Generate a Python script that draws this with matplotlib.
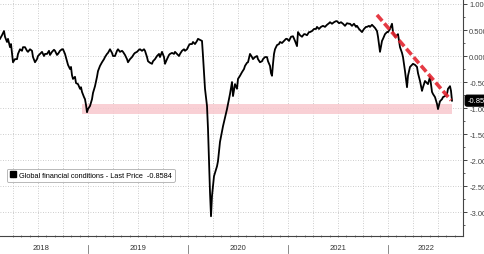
import matplotlib
matplotlib.use("Agg")
import matplotlib.pyplot as plt
from matplotlib.lines import Line2D
import matplotlib.transforms as mtransforms
import numpy as np

plt.rcParams['font.family'] = ['Liberation Sans', 'DejaVu Sans']

# Global financial conditions index, dates as decimal years
t_2018 = [2018.12, 2018.14, 2018.16, 2018.17, 2018.19, 2018.20, 2018.22, 2018.23, 2018.25, 2018.27,
          2018.29, 2018.30, 2018.32, 2018.34, 2018.35, 2018.37, 2018.39, 2018.40, 2018.42, 2018.44,
          2018.45, 2018.47, 2018.49, 2018.50, 2018.52, 2018.54, 2018.56, 2018.57, 2018.59, 2018.61,
          2018.62, 2018.64, 2018.66, 2018.67, 2018.69, 2018.70, 2018.72, 2018.74, 2018.75, 2018.77,
          2018.79, 2018.80, 2018.82, 2018.83, 2018.84, 2018.85, 2018.87, 2018.88, 2018.90, 2018.92,
          2018.93, 2018.94, 2018.96, 2018.97, 2018.98, 2018.99]
v_2018 = [0.33, 0.40, 0.48, 0.37, 0.27, 0.33, 0.17, 0.23, -0.12, -0.06,
          -0.06, 0.04, 0.13, 0.10, 0.17, 0.17, 0.10, 0.08, 0.13, 0.10,
          -0.02, -0.12, -0.06, 0.00, 0.04, 0.08, 0.00, 0.04, 0.04, 0.10,
          0.02, 0.08, 0.12, 0.10, 0.02, 0.04, 0.10, 0.13, 0.13, 0.04,
          -0.10, -0.17, -0.25, -0.21, -0.37, -0.44, -0.40, -0.52, -0.54, -0.63,
          -0.60, -0.69, -0.79, -0.83, -0.94, -1.08]

t_2019 = [2019.00, 2019.02, 2019.04, 2019.05, 2019.07, 2019.09, 2019.10, 2019.12, 2019.14, 2019.16,
          2019.17, 2019.19, 2019.20, 2019.22, 2019.24, 2019.25, 2019.27, 2019.29, 2019.30, 2019.32,
          2019.34, 2019.35, 2019.37, 2019.39, 2019.40, 2019.42, 2019.44, 2019.46, 2019.47, 2019.49,
          2019.51, 2019.52, 2019.54, 2019.56, 2019.57, 2019.59, 2019.60, 2019.62, 2019.64, 2019.65,
          2019.67, 2019.69, 2019.71, 2019.72, 2019.74, 2019.76, 2019.77, 2019.79, 2019.81, 2019.82,
          2019.84, 2019.86, 2019.87, 2019.89, 2019.91, 2019.92, 2019.94, 2019.96, 2019.97, 2019.99]
v_2019 = [-1.02, -0.96, -0.83, -0.71, -0.58, -0.40, -0.29, -0.19, -0.12, -0.06,
          -0.02, 0.04, 0.06, 0.13, 0.06, 0.00, 0.00, 0.10, 0.13, 0.08,
          0.10, 0.08, 0.02, -0.06, -0.12, -0.06, -0.02, 0.04, 0.06, 0.08,
          0.12, 0.13, 0.10, 0.13, 0.10, -0.02, -0.10, -0.13, -0.15, -0.10,
          -0.06, 0.00, 0.04, -0.02, 0.08, -0.02, -0.15, -0.06, 0.02, 0.04,
          0.06, 0.04, 0.08, 0.04, 0.00, 0.04, 0.10, 0.13, 0.10, 0.13]

t_2020 = [2020.01, 2020.02, 2020.04, 2020.05, 2020.07, 2020.09, 2020.10, 2020.12, 2020.14, 2020.15,
          2020.17, 2020.19, 2020.20, 2020.21, 2020.22, 2020.23, 2020.24, 2020.26, 2020.29, 2020.30,
          2020.32, 2020.35, 2020.39, 2020.42, 2020.44, 2020.45, 2020.47, 2020.49, 2020.50, 2020.52,
          2020.54, 2020.56, 2020.57, 2020.59, 2020.60, 2020.62, 2020.64, 2020.65, 2020.67, 2020.69,
          2020.70, 2020.72, 2020.74, 2020.75, 2020.77, 2020.79, 2020.80, 2020.82, 2020.83, 2020.84,
          2020.85, 2020.86, 2020.87, 2020.89, 2020.91, 2020.92, 2020.94, 2020.96, 2020.98, 2020.99]
v_2020 = [0.21, 0.23, 0.23, 0.27, 0.23, 0.29, 0.33, 0.31, 0.29, 0.00,
          -0.63, -0.96, -1.40, -2.04, -2.62, -3.08, -2.69, -2.31, -2.12, -2.02,
          -1.65, -1.35, -1.02, -0.73, -0.50, -0.77, -0.54, -0.63, -0.44, -0.38,
          -0.31, -0.25, -0.19, -0.13, -0.12, 0.04, -0.02, -0.06, -0.02, 0.00,
          -0.06, -0.12, -0.10, -0.06, -0.02, -0.02, -0.10, -0.19, -0.33, -0.38,
          -0.15, 0.04, 0.13, 0.21, 0.23, 0.27, 0.25, 0.29, 0.33, 0.33]

t_2021 = [2021.01, 2021.03, 2021.05, 2021.07, 2021.09, 2021.10, 2021.12, 2021.14, 2021.16, 2021.17,
          2021.19, 2021.21, 2021.22, 2021.24, 2021.26, 2021.28, 2021.29, 2021.31, 2021.33, 2021.35,
          2021.37, 2021.39, 2021.41, 2021.42, 2021.44, 2021.46, 2021.48, 2021.49, 2021.51, 2021.53,
          2021.55, 2021.57, 2021.59, 2021.61, 2021.62, 2021.64, 2021.66, 2021.68, 2021.69, 2021.71,
          2021.73, 2021.74, 2021.76, 2021.78, 2021.79, 2021.81, 2021.82, 2021.84, 2021.85, 2021.87,
          2021.89, 2021.90, 2021.92, 2021.94, 2021.95, 2021.97, 2021.99]
v_2021 = [0.29, 0.37, 0.38, 0.29, 0.19, 0.46, 0.40, 0.37, 0.42, 0.42,
          0.40, 0.46, 0.46, 0.48, 0.52, 0.52, 0.56, 0.52, 0.56, 0.58,
          0.56, 0.60, 0.63, 0.65, 0.62, 0.65, 0.67, 0.67, 0.63, 0.65,
          0.62, 0.58, 0.63, 0.62, 0.62, 0.58, 0.62, 0.56, 0.58, 0.52,
          0.48, 0.46, 0.52, 0.56, 0.56, 0.58, 0.56, 0.60, 0.58, 0.54,
          0.48, 0.37, 0.08, 0.29, 0.33, 0.42, 0.46]

t_2022 = [2022.00, 2022.02, 2022.04, 2022.05, 2022.07, 2022.09, 2022.10, 2022.12, 2022.14, 2022.15,
          2022.16, 2022.17, 2022.19, 2022.20, 2022.22, 2022.24, 2022.25, 2022.27, 2022.29, 2022.30,
          2022.32, 2022.34, 2022.35, 2022.37, 2022.39, 2022.40, 2022.42, 2022.44, 2022.45, 2022.47,
          2022.49, 2022.50, 2022.52, 2022.54, 2022.55, 2022.57, 2022.59, 2022.60, 2022.62, 2022.63,
          2022.64]
v_2022 = [0.46, 0.52, 0.62, 0.46, 0.37, 0.40, 0.42, 0.17, 0.06, -0.02,
          -0.15, -0.29, -0.60, -0.38, -0.21, -0.17, -0.15, -0.17, -0.21, -0.33,
          -0.48, -0.67, -0.60, -0.48, -0.52, -0.54, -0.40, -0.69, -0.73, -0.79,
          -0.92, -1.02, -0.87, -0.83, -0.79, -0.77, -0.73, -0.63, -0.58, -0.67,
          -0.8584]

last_price = -0.8584

# annotations: support band and falling trend line
band_t = [2018.94, 2022.64]
band_lo, band_hi = -1.115, -0.92
trend_t = [2021.89, 2022.63]
trend_v = [0.79, -0.85]

years = ["2018", "2019", "2020", "2021", "2022"]
year_centers = [2018.53, 2019.5, 2020.5, 2021.5, 2022.38]
year_bounds = [2019, 2020, 2021, 2022]

t = t_2018 + t_2019 + t_2020 + t_2021 + t_2022
v = v_2018 + v_2019 + v_2020 + v_2021 + v_2022

fig = plt.figure(figsize=(4.85, 2.55), dpi=100)
ax = fig.add_axes([0, 18 / 255, 463 / 485, 237 / 255])

ax.set_xlim(2018.12, 2022.75)
ax.set_ylim(-3.46, 1.096)

# dotted grid
for q in np.arange(2018.25, 2022.75, 0.25):
    ax.axvline(q, color="#bdbdbd", lw=0.6, ls=(0, (1, 2)), zorder=0)
for yv in np.arange(-3.0, 1.01, 0.5):
    ax.axhline(yv, color="#bdbdbd", lw=0.6, ls=(0, (1, 2)), zorder=0)

ax.fill_between(band_t, band_lo, band_hi, color="#f8c8ce", alpha=0.85, lw=0, zorder=1)
ax.plot(t, v, color="black", lw=1.3, zorder=3)
ax.plot(trend_t, trend_v, color="#e3242f", lw=2.6, dashes=(2.2, 0.9), alpha=0.9,
        solid_capstyle="butt", zorder=4)

# axes styling
for s in ["top", "left"]:
    ax.spines[s].set_visible(False)
ax.spines["right"].set_color("#444444")
ax.spines["bottom"].set_color("#444444")
ax.spines["right"].set_linewidth(0.8)
ax.spines["bottom"].set_linewidth(0.8)

ax.yaxis.tick_right()
ax.set_yticks(np.arange(-3.0, 1.01, 0.5))
ax.set_yticks(np.arange(-3.25, 1.01, 0.25), minor=True)
ax.set_yticklabels([f"{y:.3f}" for y in np.arange(-3.0, 1.01, 0.5)])
ax.tick_params(axis="y", which="major", length=3, width=0.7, colors="#444444",
               labelsize=5.5, pad=1.5)
ax.tick_params(axis="y", which="minor", length=1.5, width=0.6, colors="#444444")

ax.set_xticks([])
ax.set_xticks(np.arange(2018.25, 2022.75, 1 / 12), minor=True)
ax.tick_params(axis="x", which="minor", length=1.5, width=0.5, direction="inout",
               colors="#555555")

trans = mtransforms.blended_transform_factory(ax.transData, ax.transAxes)
for b in year_bounds:
    ax.plot([b, b], [-0.038, -0.07], transform=trans, color="#777777", lw=0.6, clip_on=False)
for lab, c in zip(years, year_centers):
    ax.text(c, -0.05, lab, transform=trans, ha="center", va="center", fontsize=5.5,
            color="#333333")

# last price tag
ax.annotate(f"{last_price:.4f}", xy=(1.0, last_price), xycoords=("axes fraction", "data"),
            xytext=(3, 0), textcoords="offset points", ha="left", va="center",
            fontsize=5.5, color="white", annotation_clip=False, zorder=6,
            bbox=dict(boxstyle="round,pad=0.25", fc="black", ec="black"))

handle = Line2D([], [], marker="s", color="black", ls="none", markersize=4)
leg = ax.legend([handle], [f"Global financial conditions - Last Price  {last_price:.4f}"],
                loc="upper left", bbox_to_anchor=(0.015, 0.283), fontsize=5.3,
                frameon=True, fancybox=True, handlelength=0.8, handletextpad=0.4,
                borderpad=0.4, borderaxespad=0)
leg.get_frame().set_edgecolor("#999999")
leg.get_frame().set_linewidth(0.6)

fig.savefig("out.png", dpi=100)
